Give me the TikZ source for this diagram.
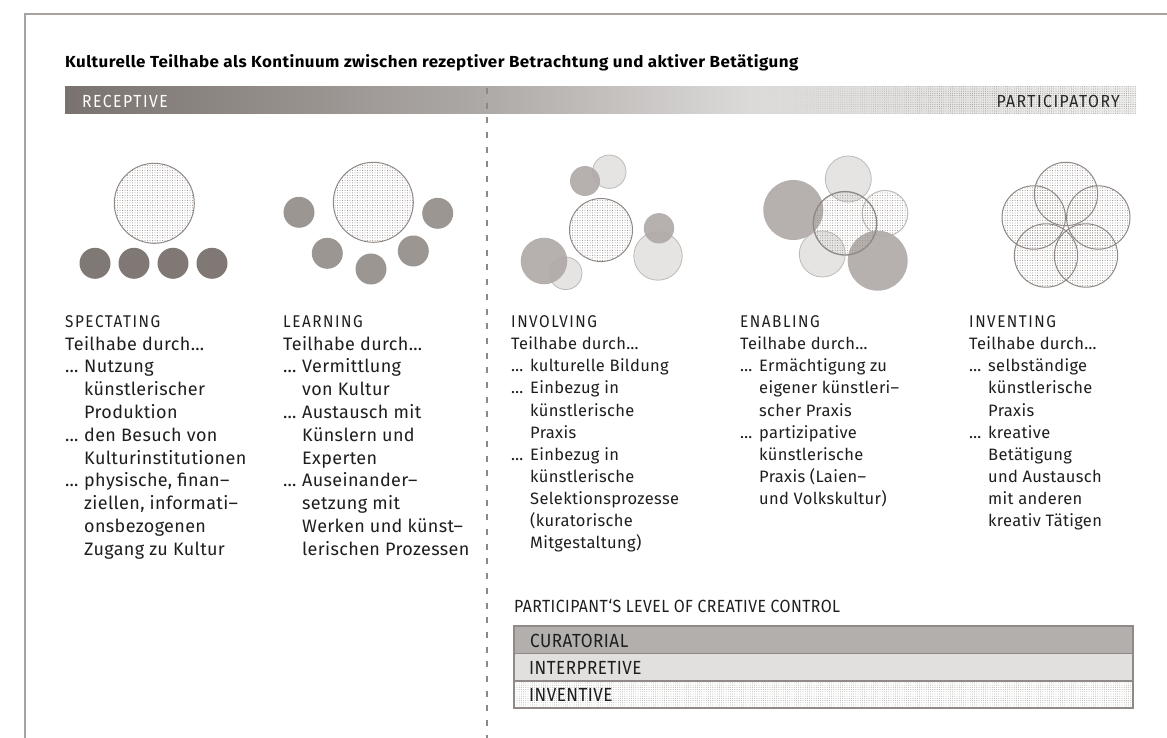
\documentclass[tikz,border=0pt]{standalone}
\usepackage{fontspec}
\setmainfont{Fira Sans}
\newfontfamily\bodyfont{Fira Sans}[LetterSpace=2]
\newfontfamily\capsfont{Fira Sans}[FakeStretch=0.9, LetterSpace=2.5]
\newfontfamily\labelfont{Fira Sans}[FakeStretch=0.9, LetterSpace=9]
\newfontfamily\barfont{Fira Sans}[FakeStretch=0.9, LetterSpace=8.5]
\newfontfamily\titlefont{Fira Sans}[FakeStretch=1.06, LetterSpace=2.7]
\usetikzlibrary{patterns.meta,fadings}
\definecolor{framegray}{HTML}{A8A39F}
\definecolor{dashgray}{HTML}{8D8885}
\definecolor{darkdot}{HTML}{807874}
\definecolor{middot}{HTML}{9B9692}
\definecolor{softdark}{HTML}{AEA9A6}
\definecolor{softlight}{HTML}{E5E4E3}
\definecolor{lightline}{HTML}{BDB9B6}
\definecolor{ringline}{HTML}{8F8884}
\definecolor{txt}{HTML}{1E1E1E}
\definecolor{barA}{HTML}{7A726E}
\definecolor{barB}{HTML}{AEAAA7}
\definecolor{barC}{HTML}{DCDAD9}
\definecolor{barD}{HTML}{EFEFEE}
\definecolor{rowA}{HTML}{B3AFAC}
\definecolor{rowB}{HTML}{E1E0DF}
\definecolor{tabline}{HTML}{8F8A87}
\pgfdeclarehorizontalshading{barshade}{100bp}{color(0bp)=(barA); color(25bp)=(barA); color(44.7bp)=(barB); color(57bp)=(barC); color(75bp)=(barD); color(100bp)=(barD)}
\tikzfading[name=dotfade, left color=transparent!100, right color=transparent!0]
\newlength\ind
\setlength\ind{19pt}
\newcommand\hd[1]{{\labelfont\fontsize{17}{20}\selectfont #1}}
\newcommand\el{\makebox[\ind][l]{…}}
\newcommand\ii{\hspace*{\ind}}
\tikzset{
  fulldot/.style={fill=darkdot},
  halfdot/.style={fill=middot},
  sdark/.style={fill=softdark, fill opacity=0.9},
  slight/.style={fill=softlight, draw=lightline, line width=0.8pt},
  dotring/.style={pattern={Dots[radius=0.5pt,distance=2.5pt]}, pattern color=ringline, draw=ringline, line width=1pt},
  lcol/.style={anchor=north west, inner sep=0pt, align=left, text=txt, font=\bodyfont\fontsize{18}{22.8}\selectfont},
  rcol/.style={anchor=north west, inner sep=0pt, align=left, text=txt, font=\bodyfont\fontsize{16.5}{22.1}\selectfont},
  barcaps/.style={inner sep=0pt, text=txt, font=\barfont\fontsize{17.5}{20}\selectfont},
  bigcaps/.style={inner sep=0pt, text=txt, font=\capsfont\fontsize{19}{22}\selectfont},
  legcaps/.style={inner sep=0pt, text=txt, font=\capsfont\fontsize{17.6}{21}\selectfont},
  rowbox/.style={draw=tabline, line width=1.1pt},
}
\begin{document}
\begin{tikzpicture}[x=1pt,y=-1pt]
\useasboundingbox (0,0) rectangle (1167,738);
% frame
\draw[framegray, line width=2pt] (25,738) -- (25,14) -- (1167,14);
% title
\node[anchor=west, inner sep=0pt, text=black, font=\titlefont\fontsize{16}{18}\selectfont\bfseries] (title) at (65,63) {Kulturelle Teilhabe als Kontinuum zwischen rezeptiver Betrachtung und aktiver Betätigung};
% bar
\shade[shading=barshade] (65,87) rectangle (1136,114);
\fill[pattern={Dots[radius=0.45pt,distance=2.2pt]}, pattern color=dashgray, path fading=dotfade] (765,87) rectangle (960,114);
\fill[pattern={Dots[radius=0.45pt,distance=2.2pt]}, pattern color=dashgray] (960,87) rectangle (1136,114);
\node[barcaps, anchor=west, text=white] (receptive) at (82,101) {RECEPTIVE};
\node[barcaps, anchor=east, text=black!85] (participatory) at (1120,101) {PARTICIPATORY};
% dashed divider
\draw[dashgray, line width=2pt, dash pattern=on 6pt off 8.7pt] (487,88) -- (487,738);
% SPECTATING icon
\draw[dotring] (154.3,203.3) circle (40);
\foreach \x in {95,134,173,212} \fill[fulldot] (\x,263.3) circle (15.5);
% LEARNING icon
\draw[dotring] (373.3,202.3) circle (40);
\foreach \p in {(299,212.3),(437.7,213.3),(327.3,253.3),(371,269),(413.3,251)} \fill[halfdot] \p circle (15.5);
% INVOLVING icon
\draw[slight] (609.3,171.7) circle (16.7);
\fill[sdark] (585,181) circle (15);
\draw[slight] (565.7,273.3) circle (16.3);
\fill[sdark] (544,261) circle (23.3);
\draw[slight] (658,256) circle (24.2);
\fill[sdark] (659,228.3) circle (15.2);
\draw[dotring] (601,230) circle (31.5);
% ENABLING icon
\draw[slight] (848.3,179) circle (23);
\draw[slight] (822.3,254) circle (23);
\fill[sdark] (793.3,210) circle (30);
\draw[dotring, draw=lightline] (885,213.3) circle (22.8);
\fill[sdark] (877.7,260.7) circle (30);
\draw[dotring, line width=1.3pt] (845,223.3) circle (31.7);
% INVENTING icon
\foreach \p in {(1066,194),(1033.7,217.5),(1098.3,217.5),(1046,255.5),(1086,255.5)} \draw[dotring] \p circle (31.7);
% columns
\node[lcol] (spect) at (65,315.2) {\setlength\ind{21pt}\hd{SPECTATING}\\
Teilhabe durch…\\
\el Nutzung\\
\ii künstlerischer\\
\ii Produktion\\
\el den Besuch von\\
\ii Kulturinstitutionen\\
\el physische, finan–\\
\ii ziellen, informati–\\
\ii onsbezogenen\\
\ii Zugang zu Kultur};
\node[lcol] (learn) at (283,315.2) {\hd{LEARNING}\\
Teilhabe durch…\\
\el Vermittlung\\
\ii von Kultur\\
\el Austausch mit\\
\ii Künslern und\\
\ii Experten\\
\el Auseinander–\\
\ii setzung mit\\
\ii Werken und künst–\\
\ii lerischen Prozessen};
\node[rcol] (invol) at (511,315.5) {\hd{INVOLVING}\\
Teilhabe durch…\\
\el kulturelle Bildung\\
\el Einbezug in\\
\ii künstlerische\\
\ii Praxis\\
\el Einbezug in\\
\ii künstlerische\\
\ii Selektionsprozesse\\
\ii (kuratorische\\
\ii Mitgestaltung)};
\node[rcol] (enab) at (740,315.5) {\hd{ENABLING}\\
Teilhabe durch…\\
\el Ermächtigung zu\\
\ii eigener künstleri–\\
\ii scher Praxis\\
\el partizipative\\
\ii künstlerische\\
\ii Praxis (Laien–\\
\ii und Volkskultur)};
\node[rcol] (invent) at (969,315.5) {\hd{INVENTING}\\
Teilhabe durch…\\
\el selbständige\\
\ii künstlerische\\
\ii Praxis\\
\el kreative\\
\ii Betätigung\\
\ii und Austausch\\
\ii mit anderen\\
\ii kreativ Tätigen};
% legend
\node[legcaps, anchor=west] (legend) at (514,606) {PARTICIPANT‘S LEVEL OF CREATIVE CONTROL};
\fill[white] (514,681) rectangle (1133,708);
\fill[pattern={Dots[radius=0.45pt,distance=2.2pt]}, pattern color=dashgray!80] (514,681) rectangle (1133,708);
\draw[rowbox, fill=rowA] (514,626) rectangle (1133,653.5);
\draw[rowbox, fill=rowB] (514,653.5) rectangle (1133,681);
\draw[rowbox] (514,681) rectangle (1133,708);
\node[bigcaps, anchor=west] (cur) at (530,640.5) {CURATORIAL};
\node[bigcaps, anchor=west] (interp) at (529,667.5) {INTERPRETIVE};
\node[bigcaps, anchor=west] (inv) at (529,694.5) {INVENTIVE};
\end{tikzpicture}
\end{document}
